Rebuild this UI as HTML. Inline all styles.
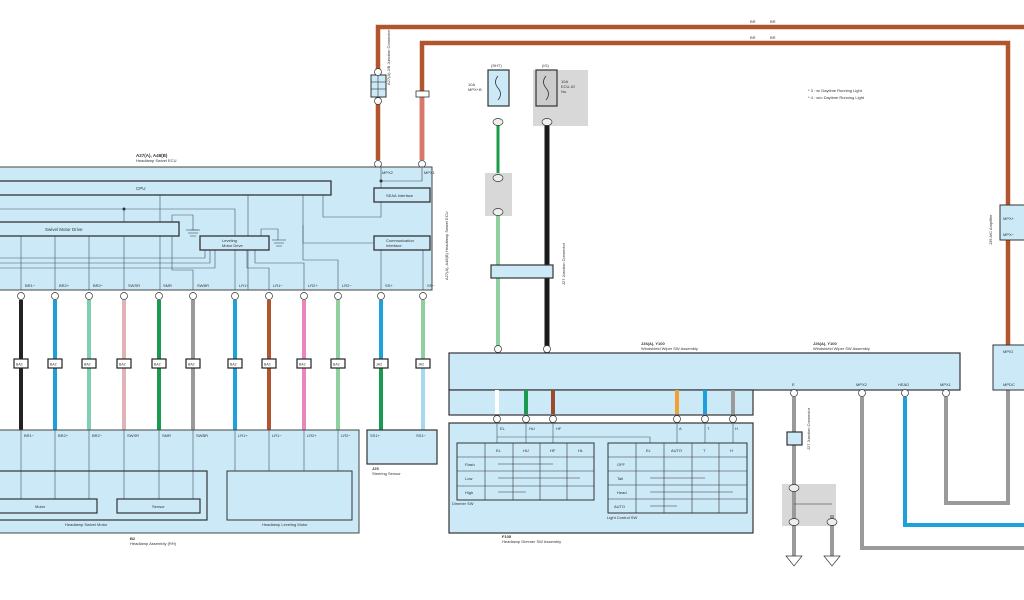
<!DOCTYPE html>
<html><head><meta charset="utf-8"><style>
html,body{margin:0;padding:0;background:#fff;}
svg{display:block;font-family:"Liberation Sans",sans-serif;}
</style></head><body>
<svg width="1024" height="600" viewBox="0 0 1024 600" xmlns="http://www.w3.org/2000/svg">
<rect width="1024" height="600" fill="#fff"/>
<!-- top brown wires -->
<path d="M378 160 V27 H1024" fill="none" stroke="#b0552e" stroke-width="4.5"/>
<path d="M422 160 V43 H1008 V345" fill="none" stroke="#b0552e" stroke-width="4.5"/>
<path d="M422 95 V160" stroke="#d9776a" stroke-width="4.5"/>
<text x="750" y="23" font-size="4" fill="#444">BR</text><text x="770" y="23" font-size="4" fill="#444">BR</text>
<text x="750" y="39" font-size="4" fill="#444">BR</text><text x="770" y="39" font-size="4" fill="#444">BR</text>
<!-- A27 junction connectors -->
<rect x="371" y="75" width="15" height="22" fill="#cce9f7" stroke="#333"/>
<line x1="371" y1="82" x2="386" y2="82" stroke="#333" stroke-width=".6"/><line x1="371" y1="89" x2="386" y2="89" stroke="#333" stroke-width=".6"/><line x1="378" y1="75" x2="378" y2="97" stroke="#333" stroke-width=".6"/>
<circle cx="378" cy="72" r="3.5" fill="#fff" stroke="#333" stroke-width=".7"/><circle cx="378" cy="101" r="3.5" fill="#fff" stroke="#333" stroke-width=".7"/>
<rect x="416" y="91" width="13" height="6" fill="#fff" stroke="#333" stroke-width=".8"/>
<text x="390" y="85" font-size="4" fill="#333" transform="rotate(-90 390 85)">A27(A) J/B Junction Connector</text>
<!-- ECU -->
<circle cx="378" cy="164" r="3.5" fill="#fff" stroke="#333" stroke-width=".7"/><circle cx="422" cy="164" r="3.5" fill="#fff" stroke="#333" stroke-width=".7"/>
<text x="136" y="157" font-size="4.5" fill="#333" font-weight="bold">A27(A), A48(B)</text>
<text x="136" y="162" font-size="4" fill="#333">Headlamp Swivel ECU</text>
<rect x="-2" y="167" width="434" height="123" fill="#cce9f7" stroke="#444" stroke-width="1"/>
<path d="M381 167 V181 H422 V167" fill="none" stroke="#444" stroke-width=".6"/>
<text x="382" y="174" font-size="4" fill="#333">MPX2</text><text x="424" y="174" font-size="4" fill="#333">MPX1</text>
<g fill="none" stroke="#456" stroke-width=".6">
<path d="M160 195 V290"/><path d="M248 195 V290 M248 230"/><path d="M303 195 V260 H338 V290"/><path d="M323 195 V217 H381 V202"/><path d="M381 181 V188"/>
<path d="M0 209 H235 V290"/><path d="M124 209 V222"/><path d="M172 215 H193 V230 M190 230 H198"/>
<path d="M21 236 V290 M55 236 V290 M89 236 V290 M124 236 V290"/>
<path d="M172 215 V270 H193 V290"/><path d="M0 258 H205 V250 M0 263 H210 V250 M0 268 H215 V250"/>
<path d="M247 250 V268 H269 V290 M255 250 V263 H304 V290"/>
<path d="M261 236 V229 H278 V240"/>
<path d="M381 250 V290 M423 250 V290"/><path d="M303 225 V243 H373"/>
</g>
<circle cx="124" cy="209" r="1.5" fill="#333"/><circle cx="381" cy="181" r="1.5" fill="#333"/>
<g stroke="#456" stroke-width=".6"><line x1="186" y1="230" x2="200" y2="230"/><line x1="188" y1="233" x2="198" y2="233"/><line x1="190" y1="236" x2="196" y2="236"/>
<line x1="272" y1="240" x2="286" y2="240"/><line x1="274" y1="243" x2="284" y2="243"/><line x1="276" y1="246" x2="282" y2="246"/></g>
<rect x="-2" y="181" width="333" height="14" fill="#cce9f7" stroke="#333" stroke-width="1.3"/><text x="136" y="190" font-size="4.5" fill="#333">CPU</text>
<rect x="-2" y="222" width="181" height="14" fill="#cce9f7" stroke="#333" stroke-width="1.3"/><text x="45" y="231" font-size="4.5" fill="#333">Swivel Motor Drive</text>
<rect x="200" y="236" width="69" height="14" fill="#cce9f7" stroke="#333" stroke-width="1.3"/><text x="222" y="242" font-size="4" fill="#333">Leveling</text><text x="222" y="247" font-size="4" fill="#333">Motor Drive</text>
<rect x="374" y="188" width="56" height="14" fill="#cce9f7" stroke="#333" stroke-width="1.3"/><text x="386" y="197" font-size="4" fill="#333">SEAA Interface</text>
<rect x="374" y="236" width="56" height="14" fill="#cce9f7" stroke="#333" stroke-width="1.3"/><text x="386" y="242" font-size="4" fill="#333">Communication</text><text x="386" y="247" font-size="4" fill="#333">Interface</text>
<text x="448" y="280" font-size="4" fill="#333" transform="rotate(-90 448 280)">A27(A), A48(B) Headlamp Swivel ECU</text>
<!-- left wires -->
<g stroke-width="4">
<line x1="21" y1="300" x2="21" y2="430" stroke="#222"/>
<line x1="55" y1="300" x2="55" y2="430" stroke="#1e9fd8"/>
<line x1="89" y1="300" x2="89" y2="430" stroke="#7fcfb0"/>
<line x1="124" y1="300" x2="124" y2="430" stroke="#e0b4b6"/>
<line x1="159" y1="300" x2="159" y2="430" stroke="#1a9a50"/>
<line x1="193" y1="300" x2="193" y2="430" stroke="#9a9a9a"/>
<line x1="235" y1="300" x2="235" y2="430" stroke="#1ea0dc"/>
<line x1="269" y1="300" x2="269" y2="430" stroke="#b0552e"/>
<line x1="304" y1="300" x2="304" y2="430" stroke="#ea86bd"/>
<line x1="338" y1="300" x2="338" y2="430" stroke="#8fd0a0"/>
<line x1="381" y1="300" x2="381" y2="364" stroke="#1ea0dc"/><line x1="381" y1="364" x2="381" y2="430" stroke="#1a9a50"/>
<line x1="423" y1="300" x2="423" y2="364" stroke="#8fd0a0"/><line x1="423" y1="364" x2="423" y2="430" stroke="#a6d8f0"/>
</g>
<g font-size="4" fill="#333">
<text x="25" y="287">BR1−</text><text x="59" y="287">BR2+</text><text x="93" y="287">BR2−</text><text x="128" y="287">SWSR</text><text x="163" y="287">SMR</text><text x="197" y="287">SWBR</text><text x="239" y="287">LR1+</text><text x="273" y="287">LR1−</text><text x="308" y="287">LR2+</text><text x="342" y="287">LR2−</text><text x="385" y="287">SS+</text><text x="427" y="287">SS−</text>
</g>
<g fill="#fff" stroke="#333" stroke-width=".7">
<circle cx="21" cy="296" r="3.5"/><circle cx="55" cy="296" r="3.5"/><circle cx="89" cy="296" r="3.5"/><circle cx="124" cy="296" r="3.5"/><circle cx="159" cy="296" r="3.5"/><circle cx="193" cy="296" r="3.5"/><circle cx="235" cy="296" r="3.5"/><circle cx="269" cy="296" r="3.5"/><circle cx="304" cy="296" r="3.5"/><circle cx="338" cy="296" r="3.5"/><circle cx="381" cy="296" r="3.5"/><circle cx="423" cy="296" r="3.5"/>
</g>
<g fill="#fff" stroke="#222" stroke-width="1.2">
<rect x="14" y="359" width="14" height="9"/><rect x="48" y="359" width="14" height="9"/><rect x="82" y="359" width="14" height="9"/><rect x="117" y="359" width="14" height="9"/><rect x="152" y="359" width="14" height="9"/><rect x="186" y="359" width="14" height="9"/><rect x="228" y="359" width="14" height="9"/><rect x="262" y="359" width="14" height="9"/><rect x="297" y="359" width="14" height="9"/><rect x="331" y="359" width="14" height="9"/><rect x="374" y="359" width="14" height="9"/><rect x="416" y="359" width="14" height="9"/>
</g>
<g font-size="3.5" fill="#333">
<text x="16" y="365.5">BA2</text><text x="50" y="365.5">BA2</text><text x="84" y="365.5">BA2</text><text x="119" y="365.5">BA2</text><text x="154" y="365.5">BA2</text><text x="188" y="365.5">BA2</text><text x="230" y="365.5">BA2</text><text x="264" y="365.5">BA2</text><text x="299" y="365.5">BA2</text><text x="333" y="365.5">BA2</text><text x="376" y="365.5">JA2</text><text x="418" y="365.5">JA2</text>
</g>
<!-- headlamp assembly -->
<rect x="-2" y="430" width="361" height="103" fill="#cce9f7" stroke="#444" stroke-width="1"/>
<g stroke="#456" stroke-width=".6"><path d="M21 430 V499 M55 430 V499 M89 430 V499 M124 430 V499 M159 430 V499 M193 430 V499 M235 430 V471 M269 430 V471 M304 430 V471 M338 430 V471"/></g>
<rect x="-2" y="471" width="209" height="49" fill="none" stroke="#333" stroke-width="1.2"/>
<rect x="-2" y="499" width="99" height="14" fill="#cce9f7" stroke="#333" stroke-width="1.2"/><text x="35" y="508" font-size="4" fill="#333">Motor</text>
<rect x="117" y="499" width="83" height="14" fill="#cce9f7" stroke="#333" stroke-width="1.2"/><text x="152" y="508" font-size="4" fill="#333">Sensor</text>
<rect x="227" y="471" width="125" height="49" fill="none" stroke="#333" stroke-width="1"/>
<text x="65" y="526" font-size="4" fill="#333">Headlamp Swivel Motor</text><text x="262" y="526" font-size="4" fill="#333">Headlamp Leveling Motor</text>
<text x="130" y="540" font-size="4" fill="#333" font-weight="bold">B2</text><text x="130" y="545" font-size="4" fill="#333">Headlamp Assembly (RH)</text>
<g font-size="4" fill="#333"><text x="24" y="437">BR1−</text><text x="58" y="437">BR2+</text><text x="92" y="437">BR2−</text><text x="127" y="437">SWSR</text><text x="162" y="437">SMR</text><text x="196" y="437">SWBR</text><text x="238" y="437">LR1+</text><text x="272" y="437">LR1−</text><text x="307" y="437">LR2+</text><text x="341" y="437">LR2−</text></g>
<rect x="367" y="430" width="70" height="34" fill="#cce9f7" stroke="#333" stroke-width="1.2"/>
<text x="370" y="437" font-size="4" fill="#333">SS1+</text><text x="416" y="437" font-size="4" fill="#333">SS1−</text>
<text x="372" y="470" font-size="4" fill="#333" font-weight="bold">J25</text><text x="372" y="475" font-size="4" fill="#333">Steering Sensor</text>
<!-- fuses -->
<rect x="533" y="70" width="55" height="56" fill="#d8d8d8"/>
<rect x="488" y="70" width="21" height="36" fill="#cce9f7" stroke="#333" stroke-width="1.2"/>
<rect x="536" y="70" width="21" height="36" fill="#ccc" stroke="#333" stroke-width="1.2"/>
<path d="M498 76 q-5 6 0 12 q5 6 0 12" fill="none" stroke="#333" stroke-width=".8"/>
<path d="M546 76 q-5 6 0 12 q5 6 0 12" fill="none" stroke="#333" stroke-width=".8"/>
<text x="491" y="67" font-size="4" fill="#333">(SHT)</text><text x="542" y="67" font-size="4" fill="#333">(IG)</text>
<text x="468" y="86" font-size="4" fill="#333">10A</text><text x="468" y="91" font-size="4" fill="#333">MPX+B</text>
<text x="561" y="83" font-size="4" fill="#333">10A</text><text x="561" y="88" font-size="4" fill="#333">ECU-IG</text><text x="561" y="93" font-size="4" fill="#333">No.</text>
<text x="808" y="92" font-size="4" fill="#333">* 3 : w/ Daytime Running Light</text>
<text x="808" y="99" font-size="4" fill="#333">* 4 : w/o Daytime Running Light</text>
<line x1="498" y1="122" x2="498" y2="353" stroke="#8fd0a0" stroke-width="4"/>
<line x1="498" y1="122" x2="498" y2="178" stroke="#1a9a50" stroke-width="2"/>
<line x1="547" y1="122" x2="547" y2="353" stroke="#1a1a1a" stroke-width="5"/>
<rect x="485" y="173" width="27" height="43" fill="#d8d8d8"/>
<g fill="#eee" stroke="#333" stroke-width=".7"><ellipse cx="498" cy="122" rx="5" ry="3.5"/><ellipse cx="547" cy="122" rx="5" ry="3.5"/><ellipse cx="498" cy="178" rx="5" ry="3.5"/><ellipse cx="498" cy="212" rx="5" ry="3.5"/></g>
<rect x="491" y="265" width="62" height="13" fill="#cce9f7" stroke="#333" stroke-width="1.2"/>
<text x="565" y="285" font-size="4" fill="#333" transform="rotate(-90 565 285)">J27 Junction Connector</text>
<!-- windshield wiper -->
<text x="641" y="345" font-size="4" fill="#333" font-weight="bold">J26(A), Y100</text><text x="641" y="350" font-size="4" fill="#333">Windshield Wiper SW Assembly</text>
<text x="813" y="345" font-size="4" fill="#333" font-weight="bold">J26(A), Y100</text><text x="813" y="350" font-size="4" fill="#333">Windshield Wiper SW Assembly</text>
<rect x="449" y="353" width="511" height="37" fill="#cce9f7" stroke="#333" stroke-width="1.2"/>
<rect x="449" y="390" width="304" height="25" fill="#cce9f7" stroke="#333" stroke-width="1.2"/>
<g stroke-width="4"><line x1="497" y1="390" x2="497" y2="414" stroke="#fff"/><line x1="526" y1="390" x2="526" y2="414" stroke="#1a9a50"/><line x1="553" y1="390" x2="553" y2="414" stroke="#9a4a2a"/><line x1="677" y1="390" x2="677" y2="414" stroke="#f0a030"/><line x1="705" y1="390" x2="705" y2="414" stroke="#1ea0dc"/><line x1="733" y1="390" x2="733" y2="414" stroke="#9a9a9a"/></g>
<g fill="#fff" stroke="#333" stroke-width=".7"><circle cx="498" cy="349" r="3.5"/><circle cx="547" cy="349" r="3.5"/><circle cx="497" cy="419" r="3.5"/><circle cx="526" cy="419" r="3.5"/><circle cx="553" cy="419" r="3.5"/><circle cx="677" cy="419" r="3.5"/><circle cx="705" cy="419" r="3.5"/><circle cx="733" cy="419" r="3.5"/><circle cx="794" cy="393" r="3.5"/><circle cx="862" cy="393" r="3.5"/><circle cx="905" cy="393" r="3.5"/><circle cx="946" cy="393" r="3.5"/></g>
<g font-size="4" fill="#333"><text x="792" y="386">E</text><text x="856" y="386">MPX2</text><text x="898" y="386">HEAD</text><text x="940" y="386">MPX1</text></g>
<!-- dimmer -->
<rect x="449" y="423" width="304" height="110" fill="#cce9f7" stroke="#333" stroke-width="1.2"/>
<g stroke="#456" stroke-width=".6" fill="none"><path d="M497 423 V443 M526 423 V443 M553 423 V443 M677 423 V443 M705 423 V443 M733 423 V443 M497 437 H650 V443"/></g>
<g font-size="4" fill="#333"><text x="500" y="430">EL</text><text x="529" y="430">HU</text><text x="556" y="430">HF</text><text x="679" y="430">A</text><text x="707" y="430">T</text><text x="735" y="430">H</text></g>
<g fill="none" stroke="#333" stroke-width="1"><rect x="457" y="443" width="137" height="57"/><rect x="608" y="443" width="139" height="70"/></g>
<g stroke="#333" stroke-width=".6"><path d="M485 443 V500 M513 443 V500 M540 443 V500 M567 443 V500 M457 457 H594 M457 471 H594 M457 486 H594 M636 443 V513 M664 443 V513 M692 443 V513 M719 443 V513 M608 457 H747 M608 471 H747 M608 485 H747 M608 499 H747"/></g>
<g font-size="4" fill="#333"><text x="496" y="452">EL</text><text x="523" y="452">HU</text><text x="550" y="452">HF</text><text x="578" y="452">HL</text><text x="465" y="466">Flash</text><text x="465" y="480">Low</text><text x="465" y="494">High</text>
<text x="646" y="452">EL</text><text x="671" y="452">AUTO</text><text x="703" y="452">T</text><text x="730" y="452">H</text><text x="617" y="466">OFF</text><text x="617" y="480">Tail</text><text x="617" y="494">Head</text><text x="614" y="508">AUTO</text>
<text x="452" y="505">Dimmer SW</text><text x="607" y="519">Light Control SW</text>
<text x="502" y="538" font-weight="bold">F105</text><text x="502" y="543">Headlamp Dimmer SW Assembly</text></g>
<g stroke="#333" stroke-width=".6"><path d="M498 464 H553 M498 478 H580 M498 492 H526 M650 478 H705 M650 492 H733 M650 506 H677"/></g>
<!-- right side -->
<rect x="782" y="484" width="54" height="42" fill="#d8d8d8"/>
<path d="M794 397 V563 M832 515 V563" stroke="#9a9a9a" stroke-width="4" fill="none"/>
<rect x="787" y="432" width="15" height="13" fill="#cce9f7" stroke="#333" stroke-width="1.2"/>
<text x="810" y="450" font-size="4" fill="#333" transform="rotate(-90 810 450)">J27 Junction Connector</text>
<path d="M794 504 H832" stroke="#333" stroke-width=".6"/>
<g fill="#eee" stroke="#333" stroke-width=".7"><ellipse cx="794" cy="488" rx="5" ry="3.5"/><ellipse cx="794" cy="522" rx="5" ry="3.5"/><ellipse cx="832" cy="522" rx="5" ry="3.5"/></g>
<path d="M786 556 H802 L794 566 Z M824 556 H840 L832 566 Z" fill="#fff" stroke="#333" stroke-width=".7"/>
<path d="M862 397 V548 H1024" stroke="#9a9a9a" stroke-width="4" fill="none"/>
<path d="M905 397 V525 H1024" stroke="#1ea0dc" stroke-width="4" fill="none"/>
<path d="M946 397 V503 H1008 V390" stroke="#9a9a9a" stroke-width="4" fill="none"/>
<rect x="1000" y="205" width="30" height="35" fill="#cce9f7" stroke="#333" stroke-width="1"/>
<text x="1003" y="220" font-size="4" fill="#333">MPX+</text><text x="1003" y="236" font-size="4" fill="#333">MPX−</text>
<text x="992" y="245" font-size="4" fill="#333" transform="rotate(-90 992 245)">J39 A/C Amplifier</text>
<rect x="993" y="345" width="35" height="45" fill="#cce9f7" stroke="#333" stroke-width="1"/>
<text x="1003" y="353" font-size="4" fill="#333">MPIG</text><text x="1003" y="386" font-size="4" fill="#333">MPDC</text>
</svg>
</body></html>
